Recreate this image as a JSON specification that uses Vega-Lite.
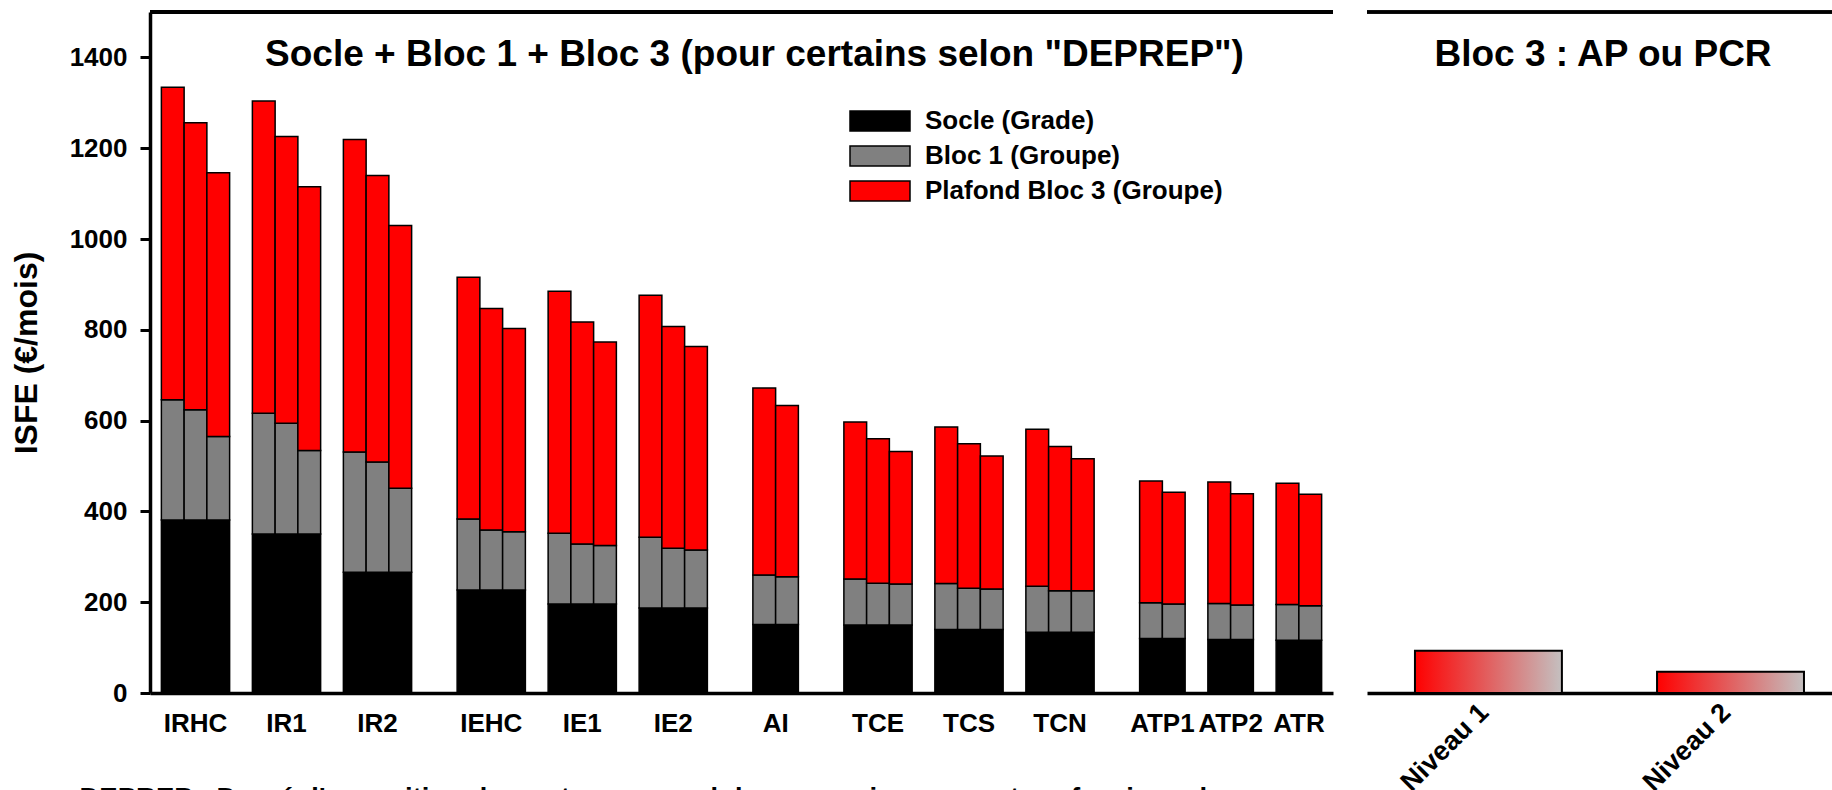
{
  "$schema": "https://vega.github.io/schema/vega-lite/v6.json",
  "background": "white",
  "padding": {"left": 10, "top": 10, "right": 0, "bottom": -21},
  "spacing": 30,
  "config": {
    "font": "Liberation Sans",
    "view": {"stroke": null},
    "axis": {"labelColor": "black", "titleColor": "black", "domainColor": "black", "tickColor": "black"}
  },
  "resolve": {"legend": {"color": "independent"}},
  "datasets": {
    "composantes": [
      {"composante": "Socle (Grade)", "rang": 1},
      {"composante": "Bloc 1 (Groupe)", "rang": 2},
      {"composante": "Plafond Bloc 3 (Groupe)", "rang": 3}
    ],
    "isfe": [
      {"barre": "IRHC 1", "composante": "Socle (Grade)", "valeur": 381},
      {"barre": "IRHC 1", "composante": "Bloc 1 (Groupe)", "valeur": 265},
      {"barre": "IRHC 1", "composante": "Plafond Bloc 3 (Groupe)", "valeur": 688},
      {"barre": "IRHC 2", "composante": "Socle (Grade)", "valeur": 381},
      {"barre": "IRHC 2", "composante": "Bloc 1 (Groupe)", "valeur": 243},
      {"barre": "IRHC 2", "composante": "Plafond Bloc 3 (Groupe)", "valeur": 632},
      {"barre": "IRHC 3", "composante": "Socle (Grade)", "valeur": 381},
      {"barre": "IRHC 3", "composante": "Bloc 1 (Groupe)", "valeur": 184},
      {"barre": "IRHC 3", "composante": "Plafond Bloc 3 (Groupe)", "valeur": 581},
      {"barre": "IR1 1", "composante": "Socle (Grade)", "valeur": 350},
      {"barre": "IR1 1", "composante": "Bloc 1 (Groupe)", "valeur": 266},
      {"barre": "IR1 1", "composante": "Plafond Bloc 3 (Groupe)", "valeur": 688},
      {"barre": "IR1 2", "composante": "Socle (Grade)", "valeur": 350},
      {"barre": "IR1 2", "composante": "Bloc 1 (Groupe)", "valeur": 244},
      {"barre": "IR1 2", "composante": "Plafond Bloc 3 (Groupe)", "valeur": 632},
      {"barre": "IR1 3", "composante": "Socle (Grade)", "valeur": 350},
      {"barre": "IR1 3", "composante": "Bloc 1 (Groupe)", "valeur": 184},
      {"barre": "IR1 3", "composante": "Plafond Bloc 3 (Groupe)", "valeur": 581},
      {"barre": "IR2 1", "composante": "Socle (Grade)", "valeur": 266},
      {"barre": "IR2 1", "composante": "Bloc 1 (Groupe)", "valeur": 265},
      {"barre": "IR2 1", "composante": "Plafond Bloc 3 (Groupe)", "valeur": 688},
      {"barre": "IR2 2", "composante": "Socle (Grade)", "valeur": 266},
      {"barre": "IR2 2", "composante": "Bloc 1 (Groupe)", "valeur": 243},
      {"barre": "IR2 2", "composante": "Plafond Bloc 3 (Groupe)", "valeur": 631},
      {"barre": "IR2 3", "composante": "Socle (Grade)", "valeur": 266},
      {"barre": "IR2 3", "composante": "Bloc 1 (Groupe)", "valeur": 185},
      {"barre": "IR2 3", "composante": "Plafond Bloc 3 (Groupe)", "valeur": 579},
      {"barre": "IEHC 1", "composante": "Socle (Grade)", "valeur": 227},
      {"barre": "IEHC 1", "composante": "Bloc 1 (Groupe)", "valeur": 156},
      {"barre": "IEHC 1", "composante": "Plafond Bloc 3 (Groupe)", "valeur": 533},
      {"barre": "IEHC 2", "composante": "Socle (Grade)", "valeur": 227},
      {"barre": "IEHC 2", "composante": "Bloc 1 (Groupe)", "valeur": 132},
      {"barre": "IEHC 2", "composante": "Plafond Bloc 3 (Groupe)", "valeur": 488},
      {"barre": "IEHC 3", "composante": "Socle (Grade)", "valeur": 227},
      {"barre": "IEHC 3", "composante": "Bloc 1 (Groupe)", "valeur": 128},
      {"barre": "IEHC 3", "composante": "Plafond Bloc 3 (Groupe)", "valeur": 448},
      {"barre": "IE1 1", "composante": "Socle (Grade)", "valeur": 196},
      {"barre": "IE1 1", "composante": "Bloc 1 (Groupe)", "valeur": 156},
      {"barre": "IE1 1", "composante": "Plafond Bloc 3 (Groupe)", "valeur": 533},
      {"barre": "IE1 2", "composante": "Socle (Grade)", "valeur": 196},
      {"barre": "IE1 2", "composante": "Bloc 1 (Groupe)", "valeur": 132},
      {"barre": "IE1 2", "composante": "Plafond Bloc 3 (Groupe)", "valeur": 489},
      {"barre": "IE1 3", "composante": "Socle (Grade)", "valeur": 196},
      {"barre": "IE1 3", "composante": "Bloc 1 (Groupe)", "valeur": 129},
      {"barre": "IE1 3", "composante": "Plafond Bloc 3 (Groupe)", "valeur": 448},
      {"barre": "IE2 1", "composante": "Socle (Grade)", "valeur": 187},
      {"barre": "IE2 1", "composante": "Bloc 1 (Groupe)", "valeur": 156},
      {"barre": "IE2 1", "composante": "Plafond Bloc 3 (Groupe)", "valeur": 533},
      {"barre": "IE2 2", "composante": "Socle (Grade)", "valeur": 187},
      {"barre": "IE2 2", "composante": "Bloc 1 (Groupe)", "valeur": 132},
      {"barre": "IE2 2", "composante": "Plafond Bloc 3 (Groupe)", "valeur": 488},
      {"barre": "IE2 3", "composante": "Socle (Grade)", "valeur": 187},
      {"barre": "IE2 3", "composante": "Bloc 1 (Groupe)", "valeur": 128},
      {"barre": "IE2 3", "composante": "Plafond Bloc 3 (Groupe)", "valeur": 448},
      {"barre": "AI 1", "composante": "Socle (Grade)", "valeur": 151},
      {"barre": "AI 1", "composante": "Bloc 1 (Groupe)", "valeur": 109},
      {"barre": "AI 1", "composante": "Plafond Bloc 3 (Groupe)", "valeur": 412},
      {"barre": "AI 2", "composante": "Socle (Grade)", "valeur": 151},
      {"barre": "AI 2", "composante": "Bloc 1 (Groupe)", "valeur": 105},
      {"barre": "AI 2", "composante": "Plafond Bloc 3 (Groupe)", "valeur": 377},
      {"barre": "TCE 1", "composante": "Socle (Grade)", "valeur": 150},
      {"barre": "TCE 1", "composante": "Bloc 1 (Groupe)", "valeur": 101},
      {"barre": "TCE 1", "composante": "Plafond Bloc 3 (Groupe)", "valeur": 346},
      {"barre": "TCE 2", "composante": "Socle (Grade)", "valeur": 150},
      {"barre": "TCE 2", "composante": "Bloc 1 (Groupe)", "valeur": 92},
      {"barre": "TCE 2", "composante": "Plafond Bloc 3 (Groupe)", "valeur": 318},
      {"barre": "TCE 3", "composante": "Socle (Grade)", "valeur": 150},
      {"barre": "TCE 3", "composante": "Bloc 1 (Groupe)", "valeur": 90},
      {"barre": "TCE 3", "composante": "Plafond Bloc 3 (Groupe)", "valeur": 292},
      {"barre": "TCS 1", "composante": "Socle (Grade)", "valeur": 140},
      {"barre": "TCS 1", "composante": "Bloc 1 (Groupe)", "valeur": 101},
      {"barre": "TCS 1", "composante": "Plafond Bloc 3 (Groupe)", "valeur": 345},
      {"barre": "TCS 2", "composante": "Socle (Grade)", "valeur": 140},
      {"barre": "TCS 2", "composante": "Bloc 1 (Groupe)", "valeur": 91},
      {"barre": "TCS 2", "composante": "Plafond Bloc 3 (Groupe)", "valeur": 318},
      {"barre": "TCS 3", "composante": "Socle (Grade)", "valeur": 140},
      {"barre": "TCS 3", "composante": "Bloc 1 (Groupe)", "valeur": 89},
      {"barre": "TCS 3", "composante": "Plafond Bloc 3 (Groupe)", "valeur": 293},
      {"barre": "TCN 1", "composante": "Socle (Grade)", "valeur": 134},
      {"barre": "TCN 1", "composante": "Bloc 1 (Groupe)", "valeur": 101},
      {"barre": "TCN 1", "composante": "Plafond Bloc 3 (Groupe)", "valeur": 346},
      {"barre": "TCN 2", "composante": "Socle (Grade)", "valeur": 134},
      {"barre": "TCN 2", "composante": "Bloc 1 (Groupe)", "valeur": 91},
      {"barre": "TCN 2", "composante": "Plafond Bloc 3 (Groupe)", "valeur": 318},
      {"barre": "TCN 3", "composante": "Socle (Grade)", "valeur": 134},
      {"barre": "TCN 3", "composante": "Bloc 1 (Groupe)", "valeur": 91},
      {"barre": "TCN 3", "composante": "Plafond Bloc 3 (Groupe)", "valeur": 291},
      {"barre": "ATP1 1", "composante": "Socle (Grade)", "valeur": 120},
      {"barre": "ATP1 1", "composante": "Bloc 1 (Groupe)", "valeur": 79},
      {"barre": "ATP1 1", "composante": "Plafond Bloc 3 (Groupe)", "valeur": 268},
      {"barre": "ATP1 2", "composante": "Socle (Grade)", "valeur": 120},
      {"barre": "ATP1 2", "composante": "Bloc 1 (Groupe)", "valeur": 76},
      {"barre": "ATP1 2", "composante": "Plafond Bloc 3 (Groupe)", "valeur": 246},
      {"barre": "ATP2 1", "composante": "Socle (Grade)", "valeur": 118},
      {"barre": "ATP2 1", "composante": "Bloc 1 (Groupe)", "valeur": 79},
      {"barre": "ATP2 1", "composante": "Plafond Bloc 3 (Groupe)", "valeur": 268},
      {"barre": "ATP2 2", "composante": "Socle (Grade)", "valeur": 118},
      {"barre": "ATP2 2", "composante": "Bloc 1 (Groupe)", "valeur": 76},
      {"barre": "ATP2 2", "composante": "Plafond Bloc 3 (Groupe)", "valeur": 245},
      {"barre": "ATR 1", "composante": "Socle (Grade)", "valeur": 116},
      {"barre": "ATR 1", "composante": "Bloc 1 (Groupe)", "valeur": 79},
      {"barre": "ATR 1", "composante": "Plafond Bloc 3 (Groupe)", "valeur": 267},
      {"barre": "ATR 2", "composante": "Socle (Grade)", "valeur": 116},
      {"barre": "ATR 2", "composante": "Bloc 1 (Groupe)", "valeur": 76},
      {"barre": "ATR 2", "composante": "Plafond Bloc 3 (Groupe)", "valeur": 246}
    ],
    "bloc3": [
      {"niveau": "Niveau 1", "valeur": 93},
      {"niveau": "Niveau 2", "valeur": 47}
    ]
  },
  "hconcat": [
    {
      "width": 1183,
      "height": 681,
      "data": {"name": "isfe"},
      "transform": [
        {"lookup": "composante", "from": {"data": {"name": "composantes"}, "key": "composante", "fields": ["rang"]}}
      ],
      "title": {
        "text": "Socle + Bloc 1 + Bloc 3 (pour certains selon \"DEPREP\")",
        "fontSize": 37, "fontWeight": "bold", "color": "black",
        "anchor": "middle", "baseline": "alphabetic", "offset": 0, "dy": 93, "dx": 13
      },
      "layer": [
        {
          "mark": {"type": "bar", "stroke": "black", "strokeWidth": 1.5},
          "encoding": {
            "x": {
              "field": "barre", "type": "nominal",
              "scale": {
                "domain": ["IRHC 1","IRHC 2","IRHC 3","e1","IR1 1","IR1 2","IR1 3","e2","IR2 1","IR2 2","IR2 3","e3","e4","IEHC 1","IEHC 2","IEHC 3","e5","IE1 1","IE1 2","IE1 3","e6","IE2 1","IE2 2","IE2 3","e7","e8","AI 1","AI 2","e9","e10","TCE 1","TCE 2","TCE 3","e11","TCS 1","TCS 2","TCS 3","e12","TCN 1","TCN 2","TCN 3","e13","e14","ATP1 1","ATP1 2","e15","ATP2 1","ATP2 2","e16","ATR 1","ATR 2"],
                "paddingInner": 0, "paddingOuter": 0.5
              },
              "axis": {
                "title": "DEPREP : Degré d'exposition du poste au regard de son environnement professionnel",
                "titleFontSize": 27.5, "titleFontWeight": "bold",
                "titleAnchor": "start", "titleAlign": "left", "titleBaseline": "top",
                "titleX": -71, "titleY": 91, "titleLimit": 0,
                "ticks": false, "domainWidth": 3.5, "labelAngle": 0,
                "labelPadding": 17, "labelFontSize": 26, "labelFontWeight": "bold",
                "labelExpr": "split(datum.value,' ')[1] == (indexof(['AI','ATP1','ATP2','ATR'], split(datum.value,' ')[0]) >= 0 ? '1' : '2') ? split(datum.value,' ')[0] : ''",
                "labelOffset": {"condition": {"test": "indexof(['AI 1','ATP1 1','ATP2 1','ATR 1'], datum.value) >= 0", "value": 11.4}, "value": 0}
              }
            },
            "y": {
              "field": "valeur", "type": "quantitative", "stack": "zero",
              "scale": {"domain": [0, 1500], "nice": false},
              "axis": {
                "values": [0, 200, 400, 600, 800, 1000, 1200, 1400], "format": "d",
                "grid": false, "tickSize": 10, "tickWidth": 3, "domainWidth": 3.5,
                "labelPadding": 13, "labelFontSize": 26, "labelFontWeight": "bold",
                "title": "ISFE (€/mois)", "titleFontSize": 32, "titleFontWeight": "bold", "titlePadding": 26
              }
            },
            "order": {"field": "rang", "type": "quantitative"},
            "color": {
              "field": "composante", "type": "nominal",
              "sort": ["Socle (Grade)", "Bloc 1 (Groupe)", "Plafond Bloc 3 (Groupe)"],
              "scale": {"domain": ["Socle (Grade)", "Bloc 1 (Groupe)", "Plafond Bloc 3 (Groupe)"], "range": ["#000000", "#808080", "#ff0000"]},
              "legend": {
                "title": null, "orient": "none", "legendX": 717, "legendY": 96, "padding": 0,
                "symbolType": "M-3,-1H3V1H-3Z", "symbolSize": 400,
                "symbolStrokeColor": "black", "symbolStrokeWidth": 1.5, "symbolOpacity": 1,
                "labelFontSize": 26, "labelFontWeight": "bold", "labelColor": "black", "labelOffset": 32,
                "labelLimit": 0, "rowPadding": 9
              }
            }
          }
        },
        {
          "mark": {"type": "rule", "strokeWidth": 3.5, "color": "black"},
          "encoding": {"y": {"datum": 1500}}
        }
      ]
    },
    {
      "width": 466,
      "height": 681,
      "data": {"name": "bloc3"},
      "title": {
        "text": "Bloc 3 : AP ou PCR",
        "fontSize": 37, "fontWeight": "bold", "color": "black",
        "anchor": "middle", "baseline": "alphabetic", "offset": 0, "dy": 93, "dx": 3
      },
      "layer": [
        {
          "mark": {
            "type": "bar", "stroke": "black", "strokeWidth": 2,
            "color": {"gradient": "linear", "x1": 0, "y1": 0, "x2": 1, "y2": 0,
              "stops": [{"offset": 0, "color": "#ff0000"}, {"offset": 1, "color": "#c4c0c0"}]}
          },
          "encoding": {
            "x": {
              "field": "niveau", "type": "nominal",
              "scale": {"paddingInner": 0.393, "paddingOuter": 0.159, "align": 0.623},
              "axis": {
                "title": null, "ticks": false, "domainWidth": 3.5, "labelAngle": -45,
                "labelAlign": "right", "labelBaseline": "middle", "labelPadding": 15, "labelOffset": -4,
                "labelFontSize": 27, "labelFontWeight": "bold"
              }
            },
            "y": {
              "field": "valeur", "type": "quantitative",
              "scale": {"domain": [0, 1500], "nice": false},
              "axis": null
            }
          }
        },
        {
          "mark": {"type": "rule", "strokeWidth": 3.5, "color": "black"},
          "encoding": {"y": {"datum": 1500}}
        }
      ]
    }
  ]
}
